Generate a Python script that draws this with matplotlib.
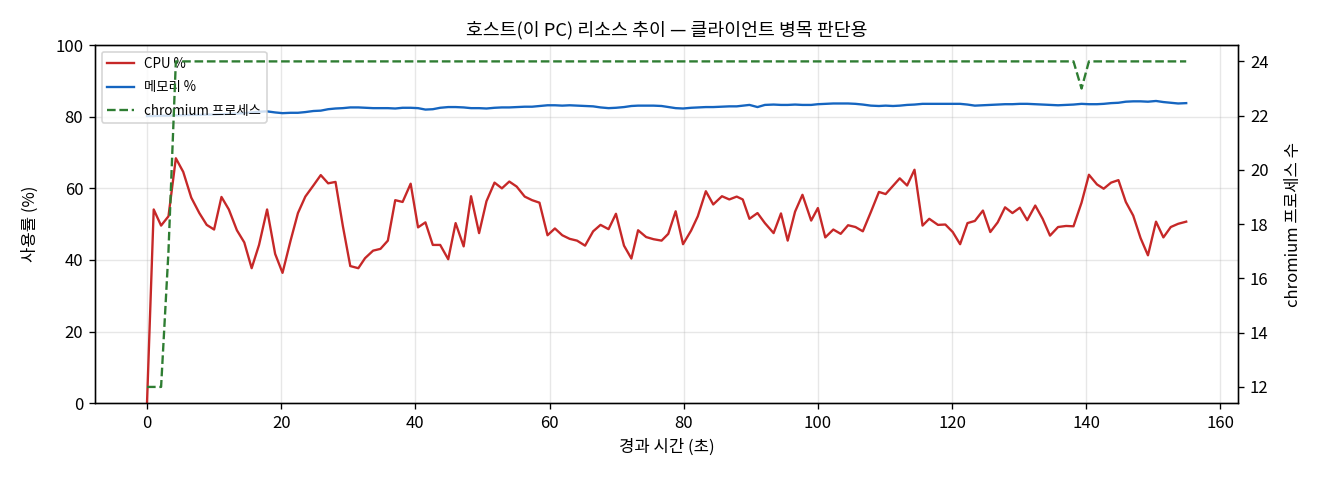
import matplotlib
matplotlib.use("Agg")
import matplotlib.pyplot as plt

plt.rcParams['font.family'] = ['Noto Sans CJK KR', 'DejaVu Sans']
plt.rcParams['axes.unicode_minus'] = False

# 경과 시간 (초)
elapsed = [0.0, 1.0, 2.1, 3.2, 4.3, 5.4, 6.6, 7.8, 8.9, 10.0,
           11.1, 12.2, 13.4, 14.5, 15.6, 16.7, 17.9, 19.1, 20.2, 21.4,
           22.5, 23.6, 24.8, 25.9, 27.0, 28.1, 29.2, 30.3, 31.5, 32.5,
           33.7, 34.8, 35.9, 37.0, 38.1, 39.3, 40.4, 41.5, 42.6, 43.7,
           44.9, 46.0, 47.2, 48.3, 49.5, 50.6, 51.8, 52.9, 54.0, 55.1,
           56.3, 57.4, 58.5, 59.7, 60.8, 61.9, 63.0, 64.1, 65.3, 66.5,
           67.6, 68.8, 69.9, 71.1, 72.2, 73.2, 74.4, 75.5, 76.7, 77.7,
           78.8, 79.9, 81.1, 82.1, 83.3, 84.4, 85.7, 86.8, 87.9, 88.8,
           89.8, 91.0, 92.1, 93.4, 94.5, 95.5, 96.6, 97.7, 99.0, 100.0,
           101.1, 102.3, 103.4, 104.5, 105.6, 106.7, 107.9, 109.1, 110.1, 111.2,
           112.2, 113.3, 114.4, 115.6, 116.6, 117.9, 119.0, 120.1, 121.2, 122.3,
           123.4, 124.6, 125.7, 126.8, 127.9, 129.0, 130.1, 131.2, 132.4, 133.5,
           134.6, 135.8, 137.0, 138.1, 139.3, 140.4, 141.6, 142.6, 143.7, 144.8,
           145.9, 147.0, 148.1, 149.2, 150.4, 151.5, 152.6, 153.7, 154.9]

cpu = [0.0, 54.1, 49.6, 52.2, 68.4, 64.6, 57.4, 53.1, 49.8, 48.5,
       57.6, 54.1, 48.3, 44.9, 37.7, 44.2, 54.1, 41.7, 36.4, 45.4,
       53.1, 57.7, 60.8, 63.7, 61.4, 61.8, 49.4, 38.3, 37.7, 40.5,
       42.6, 43.1, 45.4, 56.7, 56.2, 61.3, 49.1, 50.5, 44.2, 44.2,
       40.2, 50.3, 43.8, 57.8, 47.5, 56.4, 61.6, 60.0, 61.9, 60.5,
       57.7, 56.7, 56.0, 46.9, 48.8, 46.9, 45.9, 45.4, 44.0, 48.0,
       49.8, 48.6, 52.9, 44.0, 40.4, 48.3, 46.4, 45.8, 45.4, 47.3,
       53.6, 44.4, 48.2, 52.2, 59.2, 55.5, 57.8, 56.9, 57.7, 56.9,
       51.5, 53.1, 50.3, 47.5, 53.0, 45.4, 53.5, 58.2, 51.0, 54.5,
       46.3, 48.5, 47.3, 49.7, 49.2, 48.0, 53.4, 59.0, 58.4, 60.7,
       62.8, 60.8, 65.2, 49.6, 51.5, 49.8, 49.9, 47.8, 44.4, 50.3,
       50.9, 53.8, 47.8, 50.5, 54.7, 53.1, 54.6, 51.1, 55.2, 51.5,
       46.8, 49.2, 49.5, 49.4, 56.0, 63.8, 61.1, 59.9, 61.6, 62.3,
       56.2, 52.4, 46.1, 41.3, 50.7, 46.3, 49.2, 50.1, 50.7]

mem = [80.2, 80.2, 80.3, 80.3, 80.4, 80.4, 80.5, 80.5, 80.6, 80.6,
       80.7, 80.8, 80.9, 81.0, 81.2, 81.4, 81.5, 81.2, 81.0, 81.1,
       81.1, 81.3, 81.6, 81.7, 82.1, 82.3, 82.4, 82.6, 82.6, 82.5,
       82.4, 82.4, 82.4, 82.3, 82.5, 82.5, 82.4, 82.0, 82.1, 82.5,
       82.7, 82.7, 82.6, 82.4, 82.4, 82.3, 82.5, 82.6, 82.6, 82.7,
       82.8, 82.8, 83.0, 83.2, 83.2, 83.1, 83.2, 83.1, 83.0, 82.9,
       82.6, 82.4, 82.5, 82.7, 83.0, 83.1, 83.1, 83.1, 83.0, 82.7,
       82.4, 82.3, 82.5, 82.6, 82.7, 82.7, 82.8, 82.9, 82.9, 83.1,
       83.3, 82.7, 83.3, 83.4, 83.3, 83.3, 83.4, 83.3, 83.3, 83.5,
       83.6, 83.7, 83.7, 83.7, 83.6, 83.4, 83.1, 83.0, 83.1, 83.0,
       83.1, 83.3, 83.4, 83.6, 83.6, 83.6, 83.6, 83.6, 83.6, 83.4,
       83.1, 83.2, 83.3, 83.4, 83.5, 83.5, 83.6, 83.6, 83.5, 83.4,
       83.3, 83.2, 83.3, 83.4, 83.6, 83.5, 83.5, 83.6, 83.8, 83.9,
       84.2, 84.3, 84.3, 84.2, 84.4, 84.1, 83.9, 83.7, 83.8]

# chromium 프로세스 수
chromium = [12] * 3 + [17] + [24] * 120 + [23] + [24] * 14

fig, ax1 = plt.subplots(figsize=(11, 4), dpi=120)

l1, = ax1.plot(elapsed, cpu, color='#c62828', linewidth=1.4, label='CPU %')
l2, = ax1.plot(elapsed, mem, color='#1565c0', linewidth=1.4, label='메모리 %')
ax1.set_ylim(0, 100)
ax1.set_xlabel('경과 시간 (초)')
ax1.set_ylabel('사용률 (%)', labelpad=10)
ax1.grid(True, alpha=0.3)

ax2 = ax1.twinx()
l3, = ax2.plot(elapsed, chromium, color='#2e7d32', linewidth=1.4,
               linestyle='--', label='chromium 프로세스')
ax2.set_ylabel('chromium 프로세스 수', labelpad=10)

ax1.legend([l1, l2, l3], [l.get_label() for l in [l1, l2, l3]],
           loc='upper left', fontsize=8, labelspacing=0.7)
ax1.set_title('호스트(이 PC) 리소스 추이 — 클라이언트 병목 판단용', fontsize=11)

fig.subplots_adjust(left=0.072, right=0.938, top=0.906, bottom=0.160)
fig.savefig('out.png')
